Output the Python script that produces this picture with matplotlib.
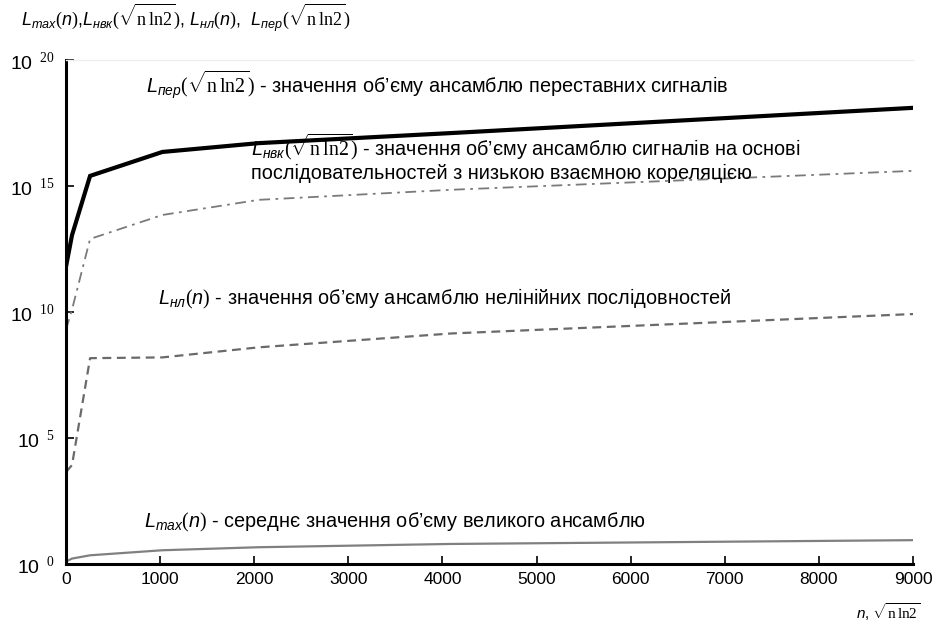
import numpy as np
import matplotlib
matplotlib.use("Agg")
import matplotlib.pyplot as plt
from matplotlib.ticker import FixedLocator, FuncFormatter

plt.rcParams["font.family"] = ["Liberation Sans", "DejaVu Sans"]
plt.rcParams["mathtext.fontset"] = "custom"
plt.rcParams["mathtext.it"] = "Liberation Sans:italic"
plt.rcParams["mathtext.rm"] = "Liberation Serif"

# values (log10 of the ensemble size)
n = [0, 64, 256, 1024, 2048, 4096, 9000]
log_per = [11.8, 13.05, 15.4, 16.35, 16.7, 17.1, 18.1]
log_nvk = [9.3, 10.1, 12.9, 13.85, 14.45, 14.85, 15.6]
log_nl = [3.65, 3.93, 8.17, 8.2, 8.6, 9.15, 9.92]
log_max = [0.1, 0.22, 0.35, 0.55, 0.67, 0.8, 0.95]

x_ticks = [0, 1000, 2000, 3000, 4000, 5000, 6000, 7000, 8000, 9000]
y_exps = [0, 5, 10, 15, 20]

sq = r"$\sqrt{\mathrm{n\,ln2}}$"

fig = plt.figure(figsize=(9.36, 6.31), dpi=100)
ax = fig.add_axes([0.0705, 0.106, 0.905, 0.799])

to_val = lambda a: 10.0 ** np.array(a)
ax.plot(n, to_val(log_per), color="black", lw=3.0, solid_joinstyle="miter")
ax.plot(n, to_val(log_nvk), color="#7a7a7a", lw=1.3, dashes=(6, 3, 1.5, 3))
ax.plot(n, to_val(log_nl), color="#6a6a6a", lw=1.6, dashes=(4, 2.5))
ax.plot(n, to_val(log_max), color="#808080", lw=1.6)

ax.set_yscale("log")
ax.set_xlim(0, 9000)
ax.set_ylim(1, 1e20)
ax.xaxis.set_major_locator(FixedLocator(x_ticks))
ax.yaxis.set_major_locator(FixedLocator([10.0 ** e for e in y_exps]))
ax.yaxis.set_minor_locator(FixedLocator([]))
ax.yaxis.set_major_formatter(FuncFormatter(
    lambda v, p: r"$\mathregular{10}^{\ \ %d}$" % round(np.log10(v))))
ax.tick_params(axis="both", direction="in", length=6, width=1.2,
               labelsize=12.5, colors="black")
ax.tick_params(axis="y", labelsize=14, pad=8)
ax.tick_params(axis="x", pad=6)

ax.spines["right"].set_visible(False)
ax.spines["top"].set_color("#eeeeee")
ax.spines["top"].set_linewidth(1)
for s in ("left", "bottom"):
    ax.spines[s].set_linewidth(2.2)

fs = 14.3
ax.text(850, 10 ** 19.0, r"$L_{пер}($" + sq + r"$)$" + " - значення об\u2019єму ансамблю переставних сигналів",
        fontsize=fs, va="center")
ax.text(1970, 10 ** 16.55, r"$L_{нвк}($" + sq + r"$)$" + " - значення об\u2019єму ансамблю сигналів на основі",
        fontsize=fs, va="center")
ax.text(1970, 10 ** 15.5, "послідовательностей з низькою взаємною кореляцією",
        fontsize=fs, va="center")
ax.text(980, 10 ** 10.5, r"$L_{нл}(n)$" + " - значення об\u2019єму ансамблю нелінійних послідовностей",
        fontsize=fs, va="center")
ax.text(830, 10 ** 1.65, r"$L_{max}(n)$" + " - середнє значення об\u2019єму великого ансамблю",
        fontsize=fs, va="center")

fig.text(0.022, 0.972, r"$L_{max}(n)$" + "," + r"$L_{нвк}($" + sq + r"$)$" + ", " + r"$L_{нл}(n)$"
         + ",  " + r"$L_{пер}($" + sq + r"$)$", fontsize=13, va="center")
fig.text(0.915, 0.012, r"$n$" + ", " + sq, fontsize=11, va="bottom")

fig.savefig("out.png", dpi=100)
